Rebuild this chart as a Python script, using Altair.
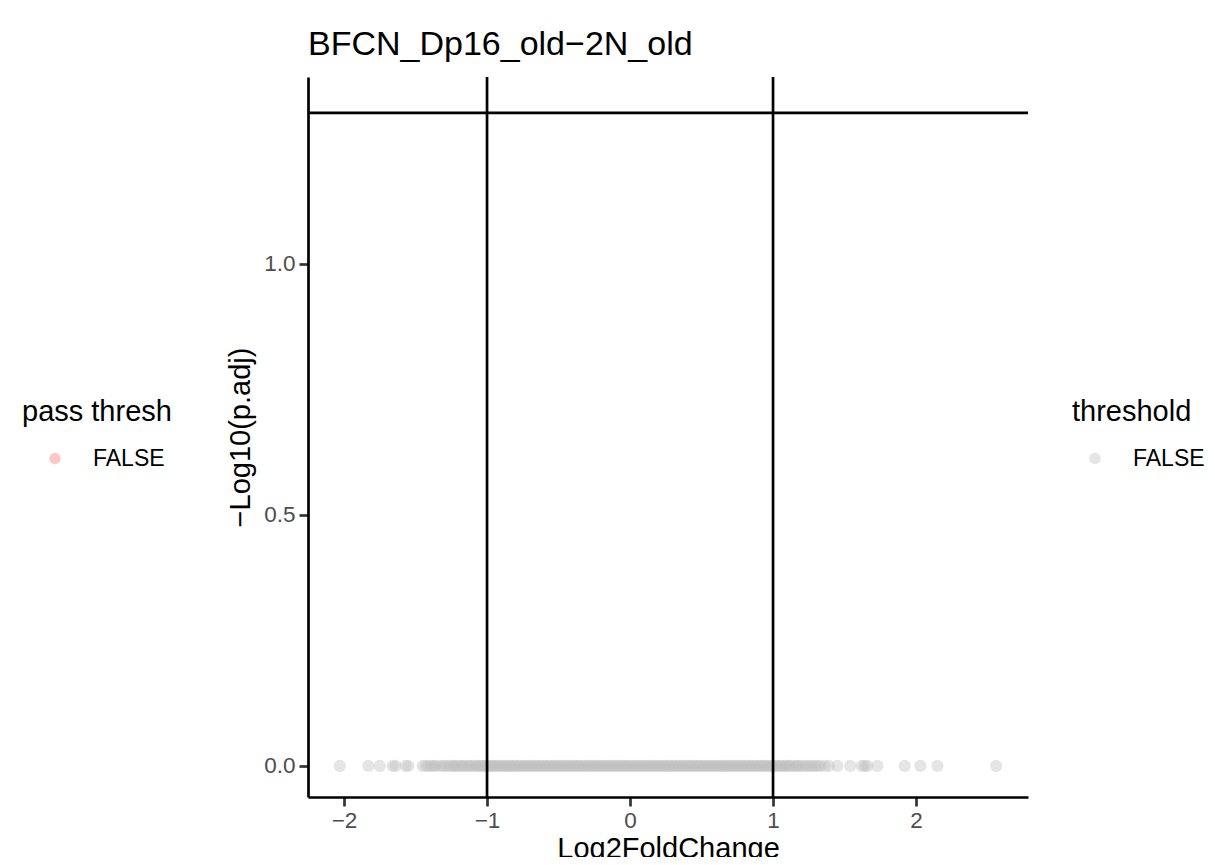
import altair as alt
import pandas as pd

# Log2 fold changes (all genes have p.adj ~ 1 -> -log10 = 0)
lfc = [
    -2.03, -1.83, -1.75, -1.66, -1.64, -1.57, -1.55,
    -1.45, -1.43, -1.41, -1.39, -1.37, -1.36, -1.33, -1.31, -1.29, -1.27,
    -1.25, -1.23, -1.22, -1.20, -1.18, -1.17, -1.15, -1.13, -1.12, -1.10,
    -1.08, -1.07, -1.05, -1.04, -1.02, -1.01, -0.99, -0.98, -0.96, -0.95,
    -0.93, -0.92, -0.90, -0.89, -0.87, -0.86, -0.84, -0.83, -0.81, -0.80,
    -0.78, -0.77, -0.75, -0.74, -0.72, -0.71, -0.69, -0.68, -0.66, -0.65,
    -0.63, -0.62, -0.60, -0.59, -0.57, -0.56, -0.54, -0.53, -0.51, -0.50,
    -0.48, -0.47, -0.45, -0.44, -0.42, -0.41, -0.39, -0.38, -0.36, -0.35,
    -0.33, -0.32, -0.30, -0.29, -0.27, -0.26, -0.24, -0.23, -0.21, -0.20,
    -0.18, -0.17, -0.15, -0.14, -0.12, -0.11, -0.09, -0.08, -0.06, -0.05,
    -0.03, -0.02, 0.00, 0.01, 0.03, 0.04, 0.06, 0.07, 0.09, 0.10,
    0.12, 0.13, 0.15, 0.16, 0.18, 0.19, 0.21, 0.22, 0.24, 0.25,
    0.27, 0.28, 0.30, 0.31, 0.33, 0.34, 0.36, 0.37, 0.39, 0.40,
    0.42, 0.43, 0.45, 0.46, 0.48, 0.49, 0.51, 0.52, 0.54, 0.55,
    0.57, 0.58, 0.60, 0.61, 0.63, 0.64, 0.66, 0.67, 0.69, 0.70,
    0.72, 0.73, 0.75, 0.76, 0.78, 0.79, 0.81, 0.82, 0.84, 0.85,
    0.87, 0.88, 0.90, 0.91, 0.93, 0.94, 0.96, 0.97, 0.99, 1.00,
    1.02, 1.03, 1.05, 1.06, 1.08,
    1.09, 1.11, 1.12, 1.14, 1.16, 1.17, 1.19, 1.21, 1.23, 1.25,
    1.27, 1.29, 1.31, 1.33, 1.36, 1.39,
    1.45, 1.54, 1.62, 1.64, 1.66, 1.73, 1.92, 2.03, 2.15, 2.56,
]
neglog_padj = [0.0] * len(lfc)
threshold = ["FALSE"] * len(lfc)

pass_thresh_levels = ["FALSE"]
threshold_levels = ["FALSE"]

vline_x = [-1, 1]
hline_y = [1.301]

x_ticks = [-2, -1, 0, 1, 2]
y_ticks = [0.0, 0.5, 1.0]

FONT = "Liberation Sans"

df = pd.DataFrame({"lfc": lfc, "nlp": neglog_padj, "threshold": threshold})
df_pass = pd.DataFrame({"lfc": [0.0], "nlp": [0.0], "pass_thresh": pass_thresh_levels})

xscale = alt.Scale(domain=[-2.252, 2.783], nice=False, zero=False)
yscale = alt.Scale(domain=[-0.0618, 1.3725], nice=False, zero=False)

x_axis = alt.Axis(
    values=x_ticks, format="d", grid=False, title="Log2FoldChange",
    domainColor="black", domainWidth=2.7,
    tickColor="#333333", tickWidth=2.7, tickSize=9,
    labelFontSize=22.5, labelColor="#4D4D4D", labelPadding=3, labelFont=FONT,
    titleFontSize=29, titleColor="black", titleFontWeight="normal", titleFont=FONT,
    titleBaseline="alphabetic", titleY=60, titleX=360, titleAlign="center",
)
y_axis = alt.Axis(
    values=y_ticks, format=".1f", grid=False, title="\u2212Log10(p.adj)",
    domainColor="black", domainWidth=2.7,
    tickColor="#333333", tickWidth=2.7, tickSize=9,
    labelFontSize=22.5, labelColor="#4D4D4D", labelPadding=4, labelFont=FONT,
    titleFontSize=29, titleColor="black", titleFontWeight="normal", titleFont=FONT,
    titleAngle=270, titleBaseline="alphabetic", titleX=-59, titleY=360, titleAlign="center",
)

points = alt.Chart(df).mark_circle(size=150, opacity=0.4).encode(
    x=alt.X("lfc:Q", scale=xscale, axis=x_axis),
    y=alt.Y("nlp:Q", scale=yscale, axis=y_axis),
    color=alt.Color(
        "threshold:N",
        scale=alt.Scale(domain=threshold_levels, range=["#BEBEBE"]),
        legend=alt.Legend(
            title="threshold", orient="none", legendX=764, legendY=321,
            titleFontSize=29, titleFont=FONT, titleFontWeight="normal", titleColor="black",
            titlePadding=20, labelFontSize=23, labelFont=FONT, labelColor="black",
            symbolType="circle", symbolSize=133, symbolOpacity=0.4, symbolStrokeWidth=0,
            symbolOffset=11.5, labelOffset=26.5, padding=0,
        ),
    ),
)

hidden = alt.Chart(df_pass).mark_circle(size=150, opacity=0).encode(
    x=alt.X("lfc:Q", scale=xscale),
    y=alt.Y("nlp:Q", scale=yscale),
    fill=alt.Fill(
        "pass_thresh:N",
        scale=alt.Scale(domain=pass_thresh_levels, range=["#F8766D"]),
        legend=alt.Legend(
            title="pass thresh", orient="none", legendX=-286, legendY=321,
            titleFontSize=29, titleFont=FONT, titleFontWeight="normal", titleColor="black",
            titlePadding=20, labelFontSize=23, labelFont=FONT, labelColor="black",
            symbolType="circle", symbolSize=133, symbolOpacity=0.4, symbolStrokeWidth=0,
            symbolOffset=21.5, labelOffset=26.5, padding=0,
        ),
    ),
)

vlines = alt.Chart(pd.DataFrame({"v": vline_x})).mark_rule(color="black", strokeWidth=2.7).encode(
    x=alt.X("v:Q", scale=xscale)
)
hlines = alt.Chart(pd.DataFrame({"h": hline_y})).mark_rule(color="black", strokeWidth=2.7).encode(
    y=alt.Y("h:Q", scale=yscale)
)

chart = alt.layer(points, hidden, vlines, hlines).resolve_scale(
    color="independent", fill="independent"
).properties(
    width=720, height=720,
    background="white",
    title=alt.TitleParams(
        "BFCN_Dp16_old\u22122N_old", anchor="start", frame="group",
        fontSize=34, font=FONT, fontWeight="normal", color="black",
        baseline="alphabetic", offset=21, dy=34,
    ),
    autosize=alt.AutoSizeParams(type="none"),
    padding={"left": 300, "top": 69, "right": 178, "bottom": 60},
).configure_view(stroke=None)

chart.save("out.html", embed_options={"renderer": "svg", "actions": False})
